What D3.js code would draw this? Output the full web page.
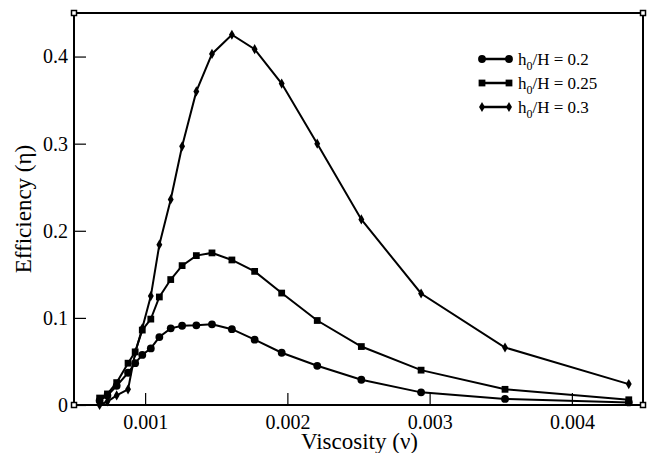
<!DOCTYPE html>
<html>
<head>
<meta charset="utf-8">
<script src="https://cdn.jsdelivr.net/npm/d3@7"></script>
<style>
  html, body { margin: 0; padding: 0; background: #fff; }
  svg { display: block; }
  svg text { font-family: 'Liberation Serif', 'Times New Roman', serif; fill: #000; }
</style>
</head>
<body>
<svg id="chart" width="652" height="453"></svg>
<script>
// ---- data ----
const viscosity = [0.00068, 0.000735, 0.0008, 0.00088, 0.00093, 0.00098, 0.00104, 0.0011, 0.00118, 0.00126,
                   0.00136, 0.00147, 0.00161, 0.00177, 0.00196, 0.00221, 0.00252, 0.00294, 0.00353, 0.0044];
const eff02  = [0.005, 0.011, 0.022, 0.037, 0.048, 0.0575, 0.065, 0.078, 0.088, 0.091,
                0.0915, 0.0926, 0.087, 0.075, 0.060, 0.045, 0.029, 0.0145, 0.007, 0.003];
const eff025 = [0.008, 0.0127, 0.0257, 0.048, 0.061, 0.086, 0.0986, 0.124, 0.144, 0.160,
                0.1715, 0.1746, 0.1665, 0.1534, 0.1285, 0.097, 0.0671, 0.040, 0.018, 0.006];
const eff03  = [0.0, 0.004, 0.011, 0.018, 0.060, 0.088, 0.125, 0.184, 0.236, 0.297,
                0.360, 0.403, 0.425, 0.4085, 0.369, 0.300, 0.213, 0.128, 0.066, 0.024];
const seriesLabels = ["0.2", "0.25", "0.3"];
const seriesShapes = ["circle", "square", "diamond"];
const xTicks = [0.001, 0.002, 0.003, 0.004];
const yTicks = [0, 0.1, 0.2, 0.3, 0.4];
const xTitle = "Viscosity (\u03bd)";
const yTitle = "Efficiency (\u03b7)";

// ---- chart ----
const FONT = "'Liberation Serif', 'Times New Roman', serif";
const svg = d3.select("#chart");
const L = 74, R = 643, T = 13, B = 405;
const x = d3.scaleLinear().domain([0.0005, 0.0045]).range([L, R]);
const y = d3.scaleLinear().domain([0, 0.45]).range([B, T]);

const series = [eff02, eff025, eff03].map((vals, i) => ({
  label: seriesLabels[i], shape: seriesShapes[i],
  points: viscosity.map((v, j) => ({ v, e: vals[j] }))
}));

const symbolFor = {
  circle: d3.symbol().type(d3.symbolCircle).size(48),
  square: d3.symbol().type(d3.symbolSquare).size(46),
  diamond: d3.symbol().type(d3.symbolDiamond).size(30)
};

// axes
const xAxis = d3.axisBottom(x).tickValues(xTicks).tickFormat(d3.format(".3f"))
  .tickSizeInner(-12).tickSizeOuter(0).tickPadding(10);
const gx = svg.append("g").attr("transform", `translate(0,${B})`).call(xAxis);
const yAxis = d3.axisLeft(y).tickValues(yTicks).tickFormat(d => d === 0 ? "0" : d3.format(".1f")(d))
  .tickSizeInner(-12).tickSizeOuter(0).tickPadding(6);
const gy = svg.append("g").attr("transform", `translate(${L},0)`).call(yAxis);
[gx, gy].forEach(g => {
  g.attr("font-family", FONT).attr("font-size", 20);
  g.select(".domain").remove();
  g.selectAll(".tick line").attr("stroke", "#000").attr("stroke-width", 1.2);
  g.selectAll(".tick text").attr("font-family", FONT).attr("font-size", 20).attr("fill", "#000");
});

// series
const line = d3.line().x(d => x(d.v)).y(d => y(d.e));
const gs = svg.append("g");
series.forEach(s => {
  gs.append("path").datum(s.points).attr("d", line)
    .attr("fill", "none").attr("stroke", "#000").attr("stroke-width", 2);
  gs.selectAll(null).data(s.points).enter().append("path")
    .attr("d", symbolFor[s.shape])
    .attr("transform", d => `translate(${x(d.v)},${y(d.e)})`)
    .attr("fill", "#000");
});

// frame
svg.append("rect").attr("x", L).attr("y", T).attr("width", R - L).attr("height", B - T)
  .attr("fill", "none").attr("stroke", "#000").attr("stroke-width", 2);
[[L, T], [R, T], [L, B], [R, B]].forEach(([cx, cy]) => {
  svg.append("rect").attr("x", cx - 2.5).attr("y", cy - 2.5).attr("width", 5).attr("height", 5)
    .attr("fill", "#fff").attr("stroke", "#000").attr("stroke-width", 1.5);
});

// legend
const lg = svg.append("g").attr("font-family", FONT);
series.forEach((s, i) => {
  const ly = 59 + i * 24;
  lg.append("line").attr("x1", 482).attr("x2", 509).attr("y1", ly).attr("y2", ly)
    .attr("stroke", "#000").attr("stroke-width", 2.5);
  [482, 509].forEach(px => lg.append("path").attr("d", symbolFor[s.shape])
    .attr("transform", `translate(${px},${ly})`).attr("fill", "#000"));
  const t = lg.append("text").attr("x", 518).attr("y", ly + 6).attr("font-size", 17);
  t.append("tspan").text("h");
  t.append("tspan").attr("dy", 5).attr("font-size", 12).text("0");
  t.append("tspan").attr("dy", -5).text("/H = " + s.label);
});

// titles
svg.append("text").attr("x", (L + R) / 2 + 1).attr("y", 449).attr("text-anchor", "middle")
  .attr("font-family", FONT).attr("font-size", 23).text(xTitle);
svg.append("text").attr("transform", `translate(31,${(T + B) / 2}) rotate(-90)`)
  .attr("text-anchor", "middle").attr("font-family", FONT).attr("font-size", 23).text(yTitle);
</script>
</body>
</html>
